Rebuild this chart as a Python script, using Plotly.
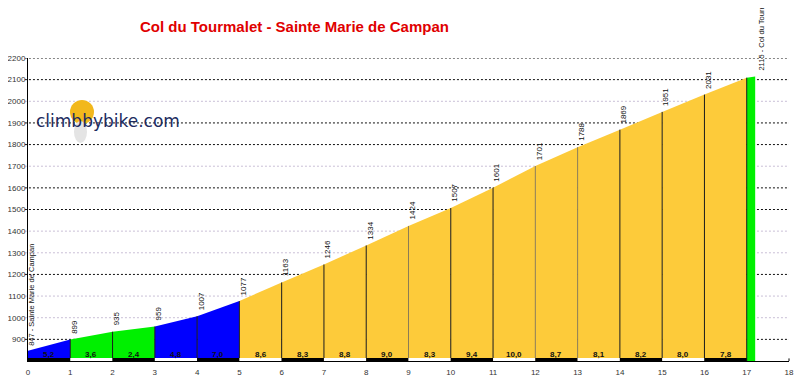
import plotly.graph_objects as go

# ---- data ----
distances = [0, 1, 2, 3, 4, 5, 6, 7, 8, 9, 10, 11, 12, 13, 14, 15, 16, 17, 17.2]
elevations = [847, 899, 935, 959, 1007, 1077, 1163, 1246, 1334, 1424, 1507,
              1601, 1701, 1788, 1869, 1951, 2031, 2109, 2115]
gradients = [5.2, 3.6, 2.4, 4.8, 7.0, 8.6, 8.3, 8.8, 9.0, 8.3, 9.4, 10.0,
             8.7, 8.1, 8.2, 8.0, 7.8, 3.0]
gradient_labels = ["5,2", "3,6", "2,4", "4,8", "7,0", "8,6", "8,3", "8,8", "9,0",
                   "8,3", "9,4", "10,0", "8,7", "8,1", "8,2", "8,0", "7,8", ""]
start_label = "847 - Sainte Marie de Campan"
end_label = "2115 - Col du Tourmalet"
title = "Col du Tourmalet - Sainte Marie de Campan"
y_ticks = list(range(900, 2201, 100))
x_ticks = list(range(0, 19))
dark_grid = [900, 1200, 1500, 1600, 1800, 1900, 2100, 2200]
grey_km_lines = [9, 12, 13]

# ---- layout geometry ----
# page offset caused by the default body margin of the html page
OFF = 8
W, H = 804, 380
# desired plot area in page pixels
PL, PR, PT, PB = 28, 789, 58, 361
ML, MR, MT, MB = PL - OFF, W - (PR - OFF), PT - OFF, H - (PB - OFF)
PW, PH = PR - PL, PB - PT


def px(xp):
    return (xp - PL) / PW


def py(yp):
    return (PB - yp) / PH


def seg_color(g):
    if g < 4:
        return "#00F000"
    if g < 7.5:
        return "#0000FF"
    return "#FDCB3A"


fig = go.Figure()

for i in range(len(gradients)):
    fig.add_trace(go.Scatter(
        x=[distances[i], distances[i + 1]],
        y=[elevations[i], elevations[i + 1]],
        mode="lines", fill="tozeroy", fillcolor=seg_color(gradients[i]),
        line=dict(width=0, color=seg_color(gradients[i])),
        hoverinfo="skip", showlegend=False,
    ))

shapes = []
# grid lines
for v in y_ticks:
    shapes.append(dict(
        type="line", xref="paper", yref="y", x0=-0.004, x1=1, y0=v, y1=v,
        line=dict(color="#111111" if v in dark_grid else "#c9bfd6", width=1, dash="2px,2px"),
        layer="below"))
# km vertical lines
for i in range(1, 18):
    shapes.append(dict(
        type="line", xref="x", yref="y", x0=distances[i], x1=distances[i],
        y0=800, y1=elevations[i],
        line=dict(color="#8c7c55" if distances[i] in grey_km_lines else "#1a1a1a", width=1),
        layer="above"))
# bottom alternating strip
for i in range(17):
    shapes.append(dict(
        type="rect", xref="x", yref="y", x0=distances[i], x1=distances[i + 1],
        y0=800, y1=814, line=dict(width=0),
        fillcolor="#000000" if i % 2 == 0 else "#FFFFFF", layer="above"))
# small end tick on x axis
shapes.append(dict(type="line", xref="paper", yref="y", x0=1, x1=1, y0=800, y1=812,
                   line=dict(color="#000000", width=1), layer="above"))
# logo circle
shapes.append(dict(type="circle", xref="paper", yref="paper",
                   x0=px(70), x1=px(94), y0=py(124), y1=py(100),
                   fillcolor="#f2b81c", line=dict(width=0), layer="above"))
shapes.append(dict(type="circle", xref="paper", yref="paper",
                   x0=px(74), x1=px(87), y0=py(143), y1=py(121),
                   fillcolor="#e4e4e4", line=dict(width=0), layer="above"))

annotations = []
# gradient labels
for i, lab in enumerate(gradient_labels):
    if lab:
        annotations.append(dict(
            x=(distances[i] + distances[i + 1]) / 2, y=832, xref="x", yref="y",
            text="<b>" + lab + "</b>", showarrow=False,
            xanchor="center", yanchor="middle",
            font=dict(family="Liberation Sans, Arial", size=8, color="#111111")))
# elevation labels
for i in range(1, 17):
    annotations.append(dict(
        x=distances[i], y=elevations[i], xref="x", yref="y",
        text=str(elevations[i]), showarrow=False, textangle=-90,
        xanchor="center", yanchor="bottom", xshift=4, yshift=5, borderpad=0,
        font=dict(family="Liberation Sans, Arial", size=8, color="#111111")))
annotations.append(dict(
    x=distances[0], y=elevations[0], xref="x", yref="y",
    text=start_label, showarrow=False, textangle=-90,
    xanchor="center", yanchor="bottom", xshift=4, yshift=4, borderpad=0,
    font=dict(family="Liberation Sans, Arial", size=7.5, color="#111111")))
annotations.append(dict(
    x=distances[-1], y=elevations[-1], xref="x", yref="y",
    text=end_label, showarrow=False, textangle=-90,
    xanchor="center", yanchor="bottom", xshift=6, yshift=5, borderpad=0,
    font=dict(family="Liberation Sans, Arial", size=7.5, color="#111111")))
# title
annotations.append(dict(
    x=px(294), y=py(27), xref="paper", yref="paper", text="<b>" + title + "</b>",
    xanchor="center", yanchor="middle", showarrow=False,
    font=dict(family="Liberation Sans, Arial", size=15, color="#e00000")))
# logo
annotations.append(dict(
    x=px(34), y=py(121), xref="paper", yref="paper", text="climbbybike.com",
    xanchor="left", yanchor="middle", showarrow=False,
    font=dict(family="DejaVu Sans", size=17, color="#1c2b60")))

fig.update_layout(
    width=W, height=H,
    margin=dict(l=ML, r=MR, t=MT, b=MB, pad=0, autoexpand=False),
    paper_bgcolor="white", plot_bgcolor="white",
    shapes=shapes, annotations=annotations, showlegend=False,
    xaxis=dict(range=[0, 18], tickvals=x_ticks, showgrid=False, zeroline=False,
               automargin=False, showline=True, linecolor="#000000", linewidth=1,
               ticks="", ticklabelstandoff=3,
               tickfont=dict(family="Liberation Sans, Arial", size=8, color="#333333")),
    yaxis=dict(range=[800, 2200], tickvals=y_ticks, showgrid=False, zeroline=False,
               automargin=False, showline=True, linecolor="#000000", linewidth=1,
               ticks="", tickfont=dict(family="Liberation Sans, Arial", size=8, color="#333333")),
)

fig.write_html("out.html")
